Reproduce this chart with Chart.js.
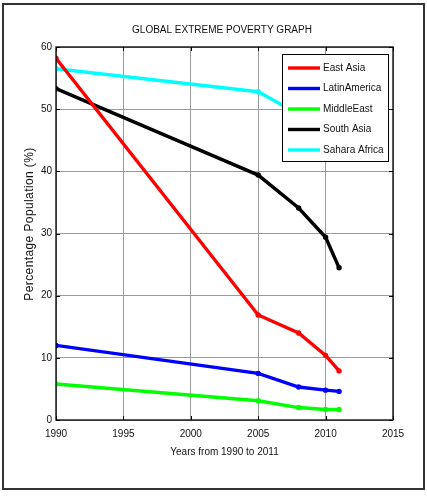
<!DOCTYPE html>
<html>
<head>
<meta charset="utf-8">
<script src="https://cdn.jsdelivr.net/npm/chart.js@4"></script>
<style>
  html, body { margin: 0; padding: 0; background: #fff; }
  #wrap { position: relative; width: 427px; height: 501px; }
</style>
</head>
<body>
<div id="wrap"><canvas id="poverty"></canvas></div>
<script>
// data
const years = [1990, 2005, 2008, 2010, 2011];
const eastAsia = [58.2, 16.9, 14.0, 10.4, 7.9];
const latinAmerica = [12.0, 7.5, 5.3, 4.8, 4.6];
const middleEast = [5.8, 3.1, 2.0, 1.7, 1.7];
const southAsia = [53.3, 39.4, 34.1, 29.4, 24.5];
const saharaAfrica = [56.5, 52.8, 49.2, 48.5, 46.8];
const xTicks = [1990, 1995, 2000, 2005, 2010, 2015];
const yTicks = [0, 10, 20, 30, 40, 50, 60];

const FONT = "'Liberation Sans', Arial, sans-serif";

const toPoints = vals => vals.map((v, i) => ({x: years[i], y: v}));
const series = (label, vals, color) => ({
  label, data: toPoints(vals), borderColor: color, backgroundColor: color,
  borderWidth: 3.4, pointRadius: 1, pointHoverRadius: 1, tension: 0
});

// axes box, inside tick marks, titles, legend box and figure frame
const matlabBox = {
  id: 'matlabBox',
  beforeDraw(chart) {
    const c = chart.ctx;
    c.save();
    c.fillStyle = '#fff';
    c.fillRect(0, 0, chart.width, chart.height);
    c.restore();
  },
  afterDatasetsDraw(chart) {
    const c = chart.ctx, a = chart.chartArea;
    const xs = chart.scales.x, ys = chart.scales.y;
    c.save();
    c.strokeStyle = '#000';
    c.lineWidth = 1.3;
    c.strokeRect(a.left, a.top, a.right - a.left, a.bottom - a.top);
    c.lineWidth = 1;
    c.beginPath();
    xTicks.forEach(t => {
      const px = Math.round(xs.getPixelForValue(t)) + 0.5;
      c.moveTo(px, a.bottom); c.lineTo(px, a.bottom - 4);
      c.moveTo(px, a.top); c.lineTo(px, a.top + 4);
    });
    yTicks.forEach(t => {
      const py = Math.round(ys.getPixelForValue(t)) + 0.5;
      c.moveTo(a.left, py); c.lineTo(a.left + 4, py);
      c.moveTo(a.right, py); c.lineTo(a.right - 4, py);
    });
    c.stroke();

    // titles
    c.fillStyle = '#111';
    c.textAlign = 'center';
    c.textBaseline = 'middle';
    c.font = '10px ' + FONT;
    c.fillText('GLOBAL EXTREME POVERTY GRAPH', 222, 30);
    c.save();
    c.translate(30, 224);
    c.rotate(-Math.PI / 2);
    c.font = '12px ' + FONT;
    c.letterSpacing = '0.4px';
    c.fillText('Percentage Population (%)', 0, 0);
    c.restore();

    // legend
    const lx = 282, ly = 54, lw = 106, lh = 107;
    c.fillStyle = '#fff';
    c.fillRect(lx, ly, lw, lh);
    c.strokeStyle = '#000';
    c.lineWidth = 1;
    c.strokeRect(lx + 0.5, ly + 0.5, lw, lh);
    c.font = '10px ' + FONT;
    c.textAlign = 'left';
    c.textBaseline = 'middle';
    chart.data.datasets.forEach((ds, i) => {
      const y = ly + 14 + i * 20.5;
      c.strokeStyle = ds.borderColor;
      c.lineWidth = 3.4;
      c.beginPath(); c.moveTo(lx + 6, y); c.lineTo(lx + 38, y); c.stroke();
      c.fillStyle = '#111';
      c.fillText(ds.label, lx + 41, y);
    });

    // figure frame
    c.strokeStyle = '#333';
    c.lineWidth = 2;
    c.strokeRect(3, 4, 421, 485);
    c.restore();
  }
};

new Chart(document.getElementById('poverty'), {
  type: 'line',
  data: {
    datasets: [
      series('East Asia', eastAsia, '#ff0000'),
      series('LatinAmerica', latinAmerica, '#0000ff'),
      series('MiddleEast', middleEast, '#00ff00'),
      series('South Asia', southAsia, '#000000'),
      series('Sahara Africa', saharaAfrica, '#00ffff')
    ]
  },
  options: {
    responsive: true,
    maintainAspectRatio: false,
    animation: false,
    layout: {padding: {left: 0, right: 34, top: 47, bottom: 39}},
    scales: {
      x: {
        type: 'linear', min: 1990, max: 2015,
        afterBuildTicks: s => { s.ticks = xTicks.map(v => ({value: v})); },
        afterFit: s => { s.height = 42; },
        ticks: {color: '#111', padding: 8, font: {family: FONT, size: 10}, callback: v => String(v)},
        grid: {color: '#9a9a9a', lineWidth: 1, drawTicks: false},
        border: {display: false},
        title: {display: true, text: 'Years from 1990 to 2011', color: '#111',
                font: {family: FONT, size: 10}, padding: {top: 0, bottom: 4}}
      },
      y: {
        min: 0, max: 60,
        afterBuildTicks: s => { s.ticks = yTicks.map(v => ({value: v})); },
        afterFit: s => { s.width = 56; },
        ticks: {color: '#111', padding: 4, font: {family: FONT, size: 10}},
        grid: {color: '#9a9a9a', lineWidth: 1, drawTicks: false},
        border: {display: false}
      }
    },
    plugins: {
      legend: {display: false},
      tooltip: {enabled: false},
      title: {display: false}
    }
  },
  plugins: [matlabBox]
});
</script>
</body>
</html>
